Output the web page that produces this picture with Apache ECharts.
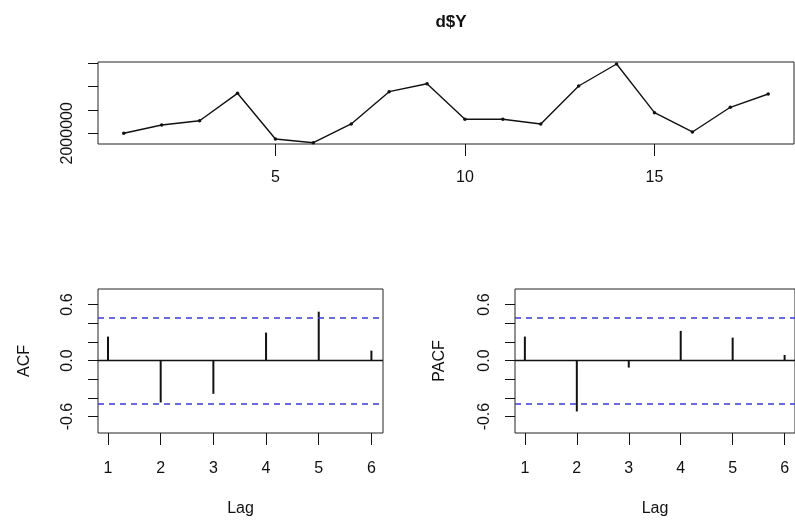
<!DOCTYPE html>
<html>
<head>
<meta charset="utf-8">
<script src="https://cdn.jsdelivr.net/npm/echarts@6/dist/echarts.min.js"></script>
<style>
html,body{margin:0;padding:0;background:#fff;}
#c{width:795px;height:522px;}
</style>
</head>
<body>
<div id="c"></div>
<script>
// ---- data ----
const timeIdx = [1,2,3,4,5,6,7,8,9,10,11,12,13,14,15,16,17,18];
const yValues = [2000000,2178000,2270000,2858000,1878000,1798000,2200000,2893000,3064000,2300000,2300000,2200000,3015000,3487000,2442000,2028000,2558000,2843000];
const lags = [1,2,3,4,5,6];
const acfValues = [0.257,-0.449,-0.356,0.300,0.524,0.107];
const pacfValues = [0.257,-0.545,-0.075,0.318,0.246,0.060];
const confLimit = 0.462;
const topXTicks = [5,10,15];
const topYTicks = [2000000,2500000,3000000,3500000];
const topYLabels = [2000000];
const corrTicks = [-0.6,-0.4,-0.2,0,0.2,0.4,0.6];
const corrLabels = [-0.6,0,0.6];

const FONT = 'Liberation Sans, Arial, sans-serif';
const txt = {color:'#111', fontFamily:FONT, fontSize:16};

function corrYAxis(gi, name, gap){
  return {
    type:'value', gridIndex:gi, min:-0.776, max:0.767,
    name:name, nameLocation:'middle', nameGap:gap, nameRotate:90,
    nameTextStyle:Object.assign({}, txt),
    axisLine:{show:false, onZero:false},
    splitLine:{show:false},
    axisTick:{show:true, length:10, customValues:corrTicks, lineStyle:{color:'#111'}},
    axisLabel:Object.assign({customValues:corrLabels, rotate:90, margin:22,
      formatter:v=>Number(v).toFixed(1)}, txt)
  };
}
function lagXAxis(gi, min, max){
  return {
    type:'value', gridIndex:gi, min:min, max:max, position:'bottom',
    name:'Lag', nameLocation:'middle', nameGap:68,
    nameTextStyle:Object.assign({}, txt),
    axisLine:{show:false, onZero:false},
    splitLine:{show:false},
    axisTick:{show:true, length:12, customValues:lags, lineStyle:{color:'#111'}},
    axisLabel:Object.assign({customValues:lags, margin:28, formatter:v=>String(v)}, txt)
  };
}
function corrSeries(xi, vals){
  return {
    type:'bar', xAxisIndex:xi, yAxisIndex:xi,
    data:lags.map((l,i)=>[l, vals[i]]),
    barWidth:2, itemStyle:{color:'#111'},
    silent:true, animation:false,
    markLine:{
      silent:true, symbol:['none','none'], label:{show:false}, animation:false,
      data:[
        {yAxis:0, lineStyle:{color:'#111', type:'solid', width:1.3}},
        {yAxis:confLimit, lineStyle:{color:'#3b3bd6', type:[6,5], width:1.5}},
        {yAxis:-confLimit, lineStyle:{color:'#3b3bd6', type:[6,5], width:1.5}}
      ]
    }
  };
}

const chart = echarts.init(document.getElementById('c'), null, {renderer:'canvas'});
chart.setOption({
  animation:false,
  backgroundColor:'#fff',
  title:{text:'d$Y', left:446, top:9, textAlign:'center',
    textStyle:{fontFamily:FONT, fontSize:17, fontWeight:'bold', color:'#111'}},
  grid:[
    {left:98, right:1, top:62, height:82, show:true, borderColor:'#222', borderWidth:1, containLabel:false},
    {left:98, right:412, top:289, height:144, show:true, borderColor:'#222', borderWidth:1, containLabel:false},
    {left:515, right:-4, top:289, height:144, show:true, borderColor:'#222', borderWidth:1, containLabel:false}
  ],
  xAxis:[
    {type:'value', gridIndex:0, min:0.32, max:18.68, position:'bottom',
      axisLine:{show:false, onZero:false}, splitLine:{show:false},
      axisTick:{show:true, length:12, customValues:topXTicks, lineStyle:{color:'#111'}},
      axisLabel:Object.assign({customValues:topXTicks, margin:26, formatter:v=>String(v)}, txt)},
    lagXAxis(1, 0.81, 6.22),
    lagXAxis(2, 0.81, 6.2)
  ],
  yAxis:[
    {type:'value', gridIndex:0, min:1770000, max:3530000,
      axisLine:{show:false, onZero:false}, splitLine:{show:false},
      axisTick:{show:true, length:10, customValues:topYTicks, lineStyle:{color:'#111'}},
      axisLabel:Object.assign({customValues:topYLabels, rotate:90, margin:22, formatter:v=>String(v)}, txt)},
    corrYAxis(1, 'ACF', 65),
    corrYAxis(2, 'PACF', 67)
  ],
  series:[
    {type:'line', xAxisIndex:0, yAxisIndex:0,
      data:timeIdx.map((t,i)=>[t, yValues[i]]),
      symbol:'circle', symbolSize:3.5, showSymbol:true,
      lineStyle:{color:'#111', width:1.4}, itemStyle:{color:'#111'},
      silent:true},
    corrSeries(1, acfValues),
    corrSeries(2, pacfValues)
  ]
});
</script>
</body>
</html>
